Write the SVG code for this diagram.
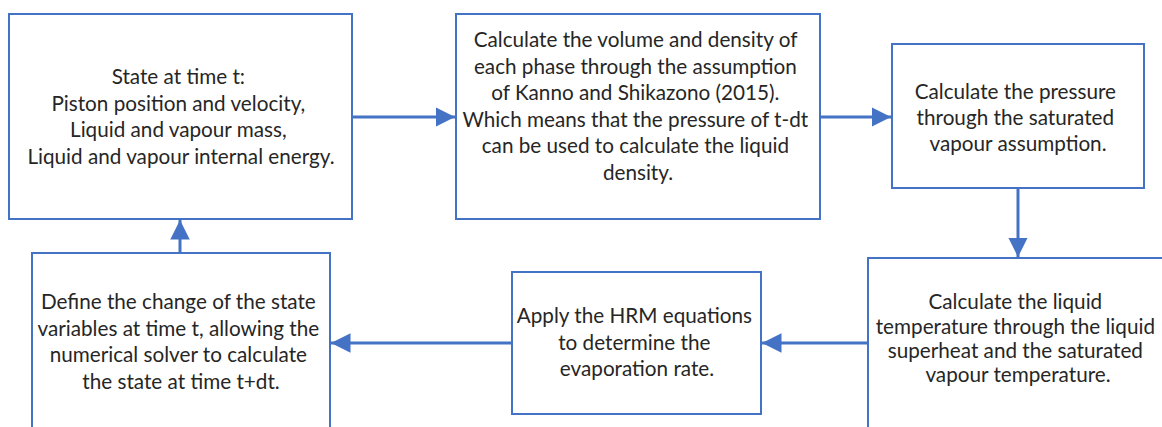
<svg xmlns="http://www.w3.org/2000/svg" width="1162" height="427" viewBox="0 0 1162 427">
  <style>
    .box { fill: #ffffff; stroke: #4472c4; stroke-width: 2; }
    .link { fill: none; stroke: #4472c4; stroke-width: 3; }
    .label { font-family: Lato, "Liberation Sans", Arial, sans-serif; font-size: 20.7px; fill: #262626; text-anchor: middle; }
  </style>
  <defs>
    <marker id="arrow" viewBox="0 0 10 10" refX="10" refY="5" markerWidth="6.5" markerHeight="6.5" markerUnits="strokeWidth" orient="auto">
      <path d="M0,0 L10,5 L0,10 Z" fill="#4472c4"/>
    </marker>
  </defs>
  <rect width="1162" height="427" fill="#ffffff"/>

  <g id="connectors">
    <line class="link" x1="352" y1="117" x2="455" y2="117" marker-end="url(#arrow)"/>
    <line class="link" x1="820" y1="117" x2="891" y2="117" marker-end="url(#arrow)"/>
    <line class="link" x1="1018" y1="188" x2="1018" y2="257" marker-end="url(#arrow)"/>
    <line class="link" x1="868" y1="343" x2="762" y2="343" marker-end="url(#arrow)"/>
    <line class="link" x1="512" y1="343" x2="331" y2="343" marker-end="url(#arrow)"/>
    <line class="link" x1="180" y1="253" x2="180" y2="220" marker-end="url(#arrow)"/>
  </g>

  <g id="state">
    <rect class="box" x="9" y="14" width="343" height="205"/>
    <text class="label">
      <tspan x="181" y="84">State at time t:</tspan>
      <tspan x="181" y="110.5">Piston position and velocity,</tspan>
      <tspan x="181" y="137">Liquid and vapour mass,</tspan>
      <tspan x="181" y="163.5">Liquid and vapour internal energy.</tspan>
    </text>
  </g>

  <g id="volume-density">
    <rect class="box" x="456" y="14" width="364" height="205"/>
    <text class="label">
      <tspan x="638" y="47">Calculate the volume and density of</tspan>
      <tspan x="638" y="73.5">each phase through the assumption</tspan>
      <tspan x="638" y="100">of Kanno and Shikazono (2015).</tspan>
      <tspan x="638" y="126.5">Which means that the pressure of t-dt</tspan>
      <tspan x="638" y="153">can be used to calculate the liquid</tspan>
      <tspan x="638" y="179.5">density.</tspan>
    </text>
  </g>

  <g id="pressure">
    <rect class="box" x="892" y="44" width="252" height="144"/>
    <text class="label">
      <tspan x="1018" y="99">Calculate the pressure</tspan>
      <tspan x="1018" y="125">through the saturated</tspan>
      <tspan x="1018" y="151">vapour assumption.</tspan>
    </text>
  </g>

  <g id="liquid-temperature">
    <rect class="box" x="868" y="258" width="310" height="190"/>
    <text class="label">
      <tspan x="1018" y="309">Calculate the liquid</tspan>
      <tspan x="1018" y="334">temperature through the liquid</tspan>
      <tspan x="1018" y="358">superheat and the saturated</tspan>
      <tspan x="1018" y="382">vapour temperature.</tspan>
    </text>
  </g>

  <g id="evaporation">
    <rect class="box" x="512" y="272" width="249" height="142"/>
    <text class="label">
      <tspan x="637" y="323">Apply the HRM equations</tspan>
      <tspan x="637" y="349.5">to determine the</tspan>
      <tspan x="637" y="376">evaporation rate.</tspan>
    </text>
  </g>

  <g id="state-change">
    <rect class="box" x="32" y="253" width="298" height="200"/>
    <text class="label">
      <tspan x="181" y="309">Define the change of the state</tspan>
      <tspan x="181" y="335.5">variables at time t, allowing the</tspan>
      <tspan x="181" y="362">numerical solver to calculate</tspan>
      <tspan x="181" y="388.5">the state at time t+dt.</tspan>
    </text>
  </g>
</svg>
